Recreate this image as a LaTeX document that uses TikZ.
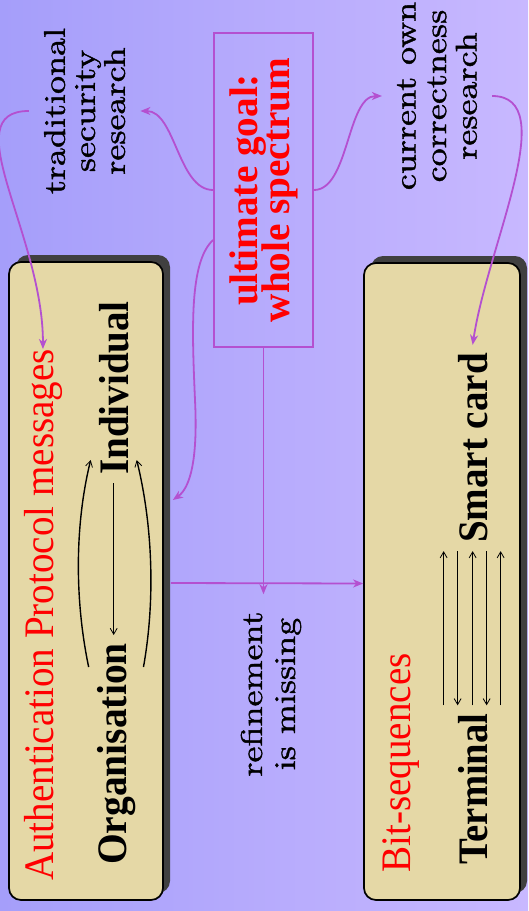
\documentclass[tikz,border=0pt]{standalone}
\usepackage{fontspec}
\usepackage{graphicx}
\newfontfamily\tms{Liberation Serif}[BoldFont={Liberation Serif Bold}]
\newfontfamily\lmh{lmroman10-regular.otf}[FakeBold=1.2]
\usetikzlibrary{arrows.meta,shadows,calc}
\definecolor{bgl}{RGB}{165,158,250}
\definecolor{bgr}{RGB}{200,184,255}
\definecolor{beige}{RGB}{229,216,166}
\definecolor{shadowgray}{RGB}{64,64,64}
\definecolor{mag}{RGB}{180,80,208}
\lineskiplimit=-100pt
\begin{document}
\begin{tikzpicture}[x=1pt,y=-1pt,
  panel/.style={draw=black, line width=1.7pt, fill=beige, rounded corners=12pt,
    general shadow={shadow xshift=7pt, shadow yshift=7pt, fill=shadowgray}},
  bigtext/.style={rotate=90, anchor=base, inner sep=0pt, font=\tms\fontsize{42}{42}\selectfont},
  boldtext/.style={rotate=90, anchor=base, inner sep=8pt, font=\tms\bfseries\fontsize{42}{42}\selectfont},
  smalltext/.style={rotate=90, align=center, inner sep=15pt},
  marr/.style={draw=mag, line width=1.8pt, -{Stealth[length=10pt,width=8pt,inset=3pt]}},
  barr/.style={draw=black, line width=1.4pt, -{Straight Barb[length=6pt,width=7pt,line width=0.8pt]}}
]
\shade[left color=bgl, right color=bgr] (0,0) rectangle (528,911);
\useasboundingbox (0,0) rectangle (528,911);

% panels
\node[panel, minimum width=154pt, minimum height=638pt] (lbox) at (86,581) {};
\node[panel, minimum width=156pt, minimum height=637pt] (rbox) at (442,581.5) {};

% panel texts
\node[bigtext, text=red] (auth) at (53,615) {\scalebox{0.93}[1]{Authentication Protocol messages}};
\node[bigtext, text=red] (bits) at (410,763) {\scalebox{0.93}[1]{Bit-sequences}};
\node[boldtext] (indiv) at (128,388) {\scalebox{0.93}[1]{Individual}};
\node[boldtext] (org) at (126,754) {\scalebox{0.94}[1]{Organisation}};
\node[boldtext] (smart) at (487,448) {\scalebox{0.93}[1]{Smart card}};
\node[boldtext] (term) at (487,789) {\scalebox{0.92}[1]{Terminal}};

% goal box
\node[rotate=90, draw=mag, line width=1.8pt, minimum width=314pt, minimum height=99pt,
  inner sep=0pt, align=center, text=red,
  font=\tms\bfseries\fontsize{40}{32}\selectfont] (goal) at (263.5,190)
  {\scalebox{0.98}[1]{ultimate goal:}\\\scalebox{0.98}[1]{whole spectrum}};

% outside texts
\node[smalltext, font=\lmh\fontsize{30}{30}\selectfont] (trad) at (84.6,111)
  {\scalebox{1.2}[1]{traditional}\\\scalebox{1.2}[1]{security}\\\scalebox{1.2}[1]{research}};
\node[smalltext, font=\lmh\fontsize{30}{30.5}\selectfont] (curr) at (437,96)
  {\scalebox{1.2}[1]{current own}\\\scalebox{1.2}[1]{correctness}\\\scalebox{1.2}[1]{research}};
\node[smalltext, inner sep=17pt, font=\lmh\fontsize{30}{33}\selectfont] (refine) at (271,694)
  {\scalebox{1.2}[1]{refinement}\\\scalebox{1.2}[1]{is missing}};

% magenta connectors
\draw[marr] (goal.north) .. controls +(-35,0) and +(35,0) .. (trad.south);
\draw[marr] (goal.south) .. controls +(35,0) and +(-35,0) .. (curr.north);
\draw[marr] (trad.north) .. controls +(-75,0) and +(0,-115) .. (auth.east);
\draw[marr] (curr.south) .. controls +(70,0) and +(15,-100) .. (smart.east);
\draw[marr] ([yshift=-50pt]goal.north) .. controls +(-24,22) and (192,330) .. (195,400)
  .. controls (198,460) and (190,488) .. ([shift={(9pt,81pt)}]lbox.east);
\draw[marr] (goal.west) -- (goal.west |- refine.east);
\draw[marr] ([shift={(7pt,-2pt)}]lbox.east) -- ([yshift=-2pt]rbox.west);

% black connectors, left panel
\draw[barr] (indiv.west) -- (indiv.west |- org.east);
\draw[barr] ([yshift=-32pt]org.north east) .. controls +(-14,-67) and +(-16,65) .. ([yshift=23pt]indiv.north west);
\draw[barr] ([yshift=-32pt]org.south east) .. controls +(12,-67) and +(16,65) .. ([yshift=23pt]indiv.south west);

% black connectors, right panel
\draw[barr] ([xshift=-29pt]term.east) -- ([xshift=-29pt]smart.west);
\draw[barr] ([xshift=-15pt]smart.west) -- ([xshift=-15pt]term.east);
\draw[barr] (term.east) -- (smart.west);
\draw[barr] ([xshift=14pt]smart.west) -- ([xshift=14pt]term.east);
\draw[barr] ([xshift=28pt]term.east) -- ([xshift=28pt]smart.west);
\end{tikzpicture}
\end{document}
